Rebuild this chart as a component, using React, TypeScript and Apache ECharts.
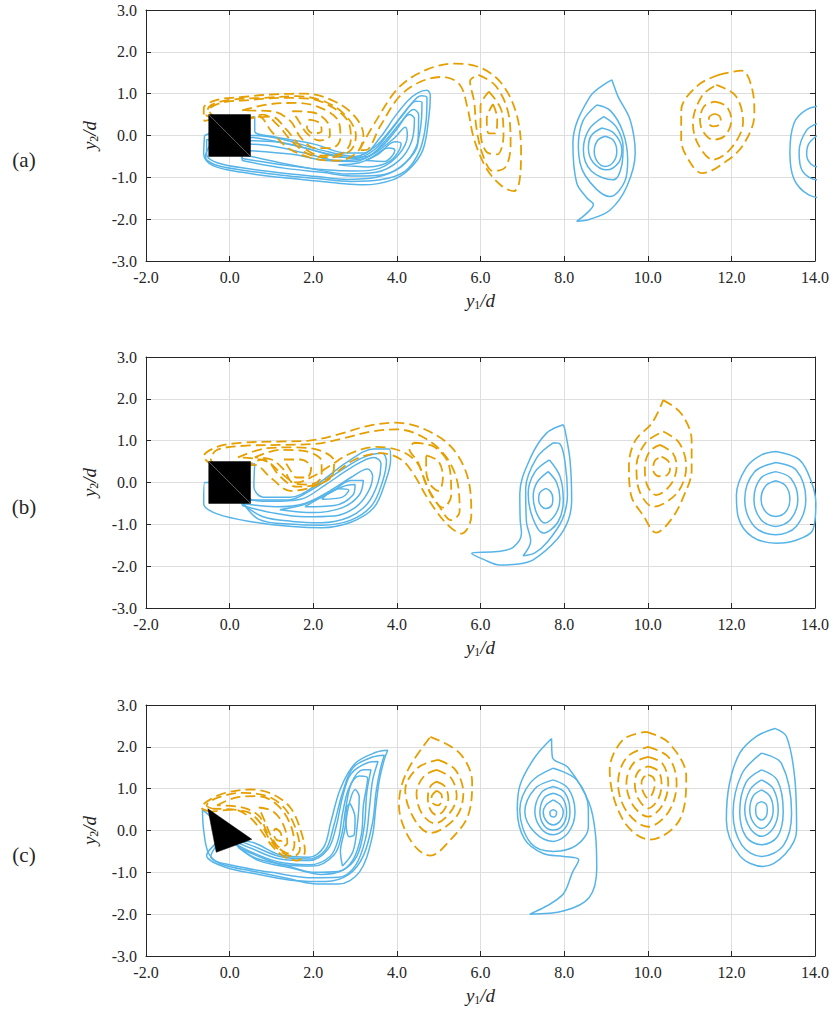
import React, { useEffect, useRef } from "react";
import * as echarts from "echarts";

type P = [number, number];

const X_MIN = -2, X_MAX = 14, X_STEP = 2;
const Y_MIN = -3, Y_MAX = 3, Y_STEP = 1;
const PANEL_LABELS = ["(a)", "(b)", "(c)"];

const BLUE = "#56B4E9";
const ORANGE = "#E69F00";
const INK = "#262626";
const SERIF = "Liberation Serif";

// bodies
const squareBody: P[] = [[-0.5, -0.5], [0.5, -0.5], [0.5, 0.5], [-0.5, 0.5]];
const squareDiag: P[] = [[-0.5, 0.5], [0.5, -0.5]];
const triangleBody: P[] = [[-0.52, 0.52], [-0.32, -0.52], [0.53, -0.21]];

// ---------- panel (a) ----------
const aBlueWake: P[][] = [
  [[-0.6, 0.0], [-0.62, -0.45], [-0.4, -0.72], [0.3, -0.88], [1.2, -1.0], [2.0, -1.08], [2.6, -1.14], [3.2, -1.18], [3.9, -1.06], [4.3, -0.8], [4.62, -0.35], [4.76, 0.4], [4.8, 0.95], [4.72, 1.08], [4.5, 1.02], [4.25, 0.82], [3.95, 0.45], [3.6, -0.05], [3.2, -0.42], [2.8, -0.42], [2.0, -0.2], [1.0, -0.02], [0.6, 0.1], [0.6, 0.45], [0.4, 0.4]],
  [[-0.45, -0.2], [-0.58, -0.5], [-0.35, -0.7], [0.4, -0.84], [1.25, -0.95], [2.1, -1.03], [2.9, -1.1], [3.6, -1.06], [4.2, -0.85], [4.55, -0.35], [4.7, 0.35], [4.72, 0.9], [4.58, 0.95], [4.3, 0.7], [3.9, 0.2], [3.5, -0.25], [3.0, -0.5], [2.2, -0.35], [1.3, -0.1], [0.6, 0.0], [0.3, 0.0]],
  [[-0.3, -0.1], [-0.55, -0.1], [-0.55, -0.45], [-0.3, -0.65], [0.5, -0.8], [1.3, -0.9], [2.1, -0.98], [2.8, -1.05], [3.5, -1.0], [4.1, -0.75], [4.45, -0.3], [4.58, 0.3], [4.6, 0.8], [4.45, 0.82], [4.15, 0.5], [3.8, 0.05], [3.45, -0.35], [3.0, -0.55], [2.4, -0.45], [1.6, -0.25], [0.9, -0.1], [0.55, -0.05], [0.3, -0.1]],
  [[0.3, -0.6], [1.3, -0.78], [2.2, -0.88], [3.0, -0.97], [3.7, -0.93], [4.2, -0.65], [4.5, -0.2], [4.52, 0.5], [4.4, 0.62], [4.08, 0.3], [3.7, -0.15], [3.3, -0.5], [2.7, -0.52], [1.9, -0.32], [1.1, -0.15], [0.3, -0.12]],
  [[0.3, -0.45], [1.2, -0.65], [2.0, -0.8], [2.8, -0.92], [3.5, -0.88], [4.05, -0.6], [4.35, -0.15], [4.42, 0.4], [4.3, 0.5], [4.0, 0.15], [3.65, -0.25], [3.2, -0.55], [2.6, -0.6], [1.8, -0.42], [1.0, -0.25], [0.3, -0.2]],
  [[0.3, -0.55], [1.4, -0.72], [2.3, -0.82], [3.0, -0.85], [3.6, -0.78], [4.05, -0.45], [4.25, 0.0], [4.2, 0.2], [3.95, -0.05], [3.5, -0.4], [3.0, -0.62], [2.3, -0.6], [1.5, -0.45], [0.3, -0.35]],
  [[2.6, -0.7], [3.3, -0.75], [3.85, -0.6], [4.1, -0.2], [3.95, -0.15], [3.55, -0.45], [3.1, -0.65]],
  [[3.25, -0.6], [3.7, -0.62], [3.95, -0.35], [3.8, -0.3], [3.4, -0.52]],
];
const aOrangeNear: P[][] = [
  [[-0.4, 0.4], [-0.6, 0.35], [-0.62, 0.65], [-0.3, 0.85], [0.3, 0.92], [1.0, 0.98], [1.8, 1.0], [2.5, 0.82], [3.0, 0.45], [3.2, 0.0], [3.05, -0.4], [2.6, -0.6], [2.0, -0.55], [1.4, -0.3], [1.0, 0.1], [0.7, 0.45], [0.4, 0.4]],
  [[-0.35, 0.4], [-0.56, 0.5], [-0.45, 0.72], [0.0, 0.85], [0.8, 0.9], [1.6, 0.94], [2.3, 0.8], [2.8, 0.45], [3.02, 0.0], [2.9, -0.35], [2.45, -0.52], [1.9, -0.45], [1.5, -0.15], [1.15, 0.25], [0.8, 0.5], [0.35, 0.4]],
  [[-0.3, 0.4], [-0.5, 0.6], [-0.2, 0.78], [0.5, 0.85], [1.2, 0.9], [1.9, 0.88], [2.5, 0.65], [2.85, 0.3], [2.9, -0.1], [2.7, -0.42], [2.2, -0.48], [1.7, -0.25], [1.35, 0.15], [1.0, 0.45], [0.3, 0.4]],
  [[0.3, 0.6], [0.9, 0.74], [1.6, 0.78], [2.2, 0.65], [2.6, 0.35], [2.65, -0.05], [2.45, -0.3], [2.05, -0.3], [1.7, -0.05], [1.45, 0.35], [1.0, 0.58], [0.3, 0.6]],
  [[1.5, 0.58], [2.0, 0.55], [2.35, 0.3], [2.4, 0.0], [2.15, -0.12], [1.85, 0.05], [1.65, 0.35], [1.5, 0.58]],
  [[1.9, 0.38], [2.15, 0.3], [2.2, 0.1], [2.0, 0.05], [1.85, 0.2], [1.9, 0.38]],
];
const aOrangeHook: P[][] = [
  [[3.1, -0.35], [3.5, 0.35], [4.05, 1.15], [4.7, 1.57], [5.4, 1.72], [6.0, 1.62], [6.5, 1.25], [6.85, 0.55], [6.97, -0.35], [6.93, -1.1], [6.8, -1.33], [6.5, -1.2], [6.15, -0.8], [5.85, -0.1], [5.68, 0.7], [5.5, 1.22], [5.1, 1.4], [4.55, 1.28], [4.05, 0.92], [3.6, 0.22], [3.25, -0.35]],
  [[5.95, 1.45], [6.35, 1.2], [6.65, 0.6], [6.72, -0.2], [6.6, -0.75], [6.3, -0.85], [6.05, -0.45], [5.9, 0.2], [5.85, 0.8], [5.75, 1.3], [5.95, 1.45]],
  [[6.2, 1.05], [6.5, 0.6], [6.55, 0.0], [6.4, -0.45], [6.15, -0.4], [6.0, 0.1], [6.0, 0.7], [6.2, 1.05]],
  [[6.3, 0.75], [6.4, 0.4], [6.35, 0.05], [6.2, 0.05], [6.15, 0.4], [6.3, 0.75]],
];
const aBlueV9: P[][] = [
  [[9.14, 1.33], [8.62, 0.93], [8.21, -0.18], [8.3, -1.13], [8.55, -1.5], [8.7, -1.65], [8.55, -1.85], [8.3, -2.05], [8.62, -2.0], [9.1, -1.78], [9.5, -1.22], [9.7, -0.42], [9.58, 0.37], [9.29, 0.93], [9.17, 1.25], [9.14, 1.33]],
  [[8.78, 0.73], [8.45, 0.35], [8.34, -0.26], [8.5, -0.95], [9.1, -1.46], [9.45, -1.1], [9.52, -0.58], [9.4, 0.1], [9.1, 0.6], [8.78, 0.73]],
  [[8.95, 0.45], [8.6, 0.15], [8.46, -0.34], [8.65, -0.85], [9.17, -1.06], [9.38, -0.7], [9.41, -0.26], [9.25, 0.2], [8.95, 0.45]],
  [[8.9, 0.18], [8.65, 0.0], [8.58, -0.3], [8.7, -0.65], [9.02, -0.82], [9.3, -0.65], [9.38, -0.34], [9.2, 0.05], [8.9, 0.18]],
  [[8.98, -0.02], [8.8, -0.12], [8.72, -0.38], [8.8, -0.63], [8.98, -0.74], [9.18, -0.63], [9.26, -0.38], [9.18, -0.12], [8.98, -0.02]],
];
const aOrangeV11: P[][] = [
  [[11.7, 1.45], [12.25, 1.55], [12.5, 1.1], [12.55, 0.5], [12.3, -0.2], [11.9, -0.6], [11.3, -0.9], [11.05, -0.7], [10.8, -0.1], [10.8, 0.6], [11.2, 1.2], [11.7, 1.45]],
  [[11.64, 1.21], [12.1, 0.95], [12.28, 0.33], [12.0, -0.3], [11.56, -0.58], [11.2, -0.2], [11.08, 0.3], [11.3, 0.95], [11.64, 1.21]],
  [[11.6, 0.81], [11.88, 0.7], [12.0, 0.37], [11.85, 0.0], [11.56, -0.1], [11.32, 0.1], [11.25, 0.37], [11.35, 0.7], [11.6, 0.81]],
  [[11.6, 0.52], [11.72, 0.46], [11.75, 0.34], [11.68, 0.24], [11.56, 0.22], [11.46, 0.3], [11.47, 0.44], [11.6, 0.52]],
];
const aBlueV14: P[][] = [
  [[14.2, 0.72], [13.8, 0.62], [13.5, 0.3], [13.4, -0.4], [13.5, -1.05], [13.85, -1.42], [14.3, -1.5], [14.8, -1.2], [14.9, -0.4], [14.7, 0.4], [14.2, 0.72]],
  [[14.1, 0.3], [13.8, 0.13], [13.62, -0.4], [13.7, -0.85], [14.05, -1.06], [14.5, -0.9], [14.6, -0.4], [14.45, 0.1], [14.1, 0.3]],
  [[14.05, 0.0], [13.85, -0.2], [13.8, -0.45], [13.9, -0.68], [14.1, -0.75], [14.35, -0.55], [14.35, -0.2], [14.05, 0.0]],
];

// ---------- panel (b) ----------
const bBlueWake: P[][] = [
  [[-0.3, 0.0], [-0.6, 0.0], [-0.62, -0.5], [-0.3, -0.75], [0.6, -0.95], [1.5, -1.05], [2.2, -1.08], [2.9, -0.95], [3.45, -0.6], [3.72, 0.0], [3.85, 0.55], [3.82, 0.8], [3.45, 0.8], [2.8, 0.48], [2.15, 0.0], [1.45, -0.35], [0.8, -0.35], [0.58, -0.1], [0.6, 0.45], [0.4, 0.4]],
  [[0.3, -0.45], [0.7, -0.88], [1.5, -1.0], [2.2, -1.02], [2.9, -0.9], [3.4, -0.55], [3.65, 0.0], [3.75, 0.5], [3.65, 0.7], [3.2, 0.6], [2.6, 0.25], [2.0, -0.15], [1.4, -0.42], [0.6, -0.42], [0.3, -0.3]],
  [[0.3, -0.5], [0.8, -0.82], [1.5, -0.93], [2.2, -0.96], [2.85, -0.83], [3.3, -0.5], [3.55, 0.0], [3.62, 0.45], [3.45, 0.6], [2.9, 0.35], [2.3, -0.05], [1.7, -0.4], [1.0, -0.45], [0.3, -0.4]],
  [[0.3, -0.55], [1.0, -0.72], [1.8, -0.82], [2.5, -0.8], [3.0, -0.6], [3.3, -0.25], [3.42, 0.15], [3.3, 0.32], [2.9, 0.12], [2.4, -0.2], [1.8, -0.5], [1.1, -0.58], [0.3, -0.5]],
  [[1.2, -0.65], [2.0, -0.72], [2.7, -0.6], [3.1, -0.3], [3.2, 0.05], [2.9, 0.05], [2.4, -0.25], [1.8, -0.52], [1.2, -0.65]],
  [[1.8, -0.58], [2.5, -0.55], [2.95, -0.3], [3.0, -0.05], [2.7, -0.1], [2.2, -0.35], [1.8, -0.58]],
  [[2.2, -0.4], [2.7, -0.35], [2.85, -0.18], [2.6, -0.15], [2.2, -0.4]],
];
const bOrangeBand: P[][] = [
  [[-0.4, 0.4], [-0.62, 0.62], [-0.3, 0.85], [0.3, 0.95], [1.2, 0.98], [1.9, 1.0], [2.6, 1.15], [3.3, 1.35], [3.95, 1.43], [4.6, 1.3], [5.3, 0.85], [5.7, 0.1], [5.78, -0.8], [5.55, -1.22], [5.2, -1.0], [4.75, -0.4], [4.4, 0.2], [4.1, 0.55], [3.6, 0.7], [3.0, 0.55], [2.5, 0.2], [2.0, -0.1], [1.45, -0.2], [1.0, 0.1], [0.6, 0.42], [0.4, 0.4]],
  [[-0.3, 0.4], [-0.45, 0.55], [-0.3, 0.78], [0.4, 0.88], [1.3, 0.9], [2.0, 0.92], [2.7, 1.05], [3.4, 1.22], [4.0, 1.27], [4.6, 1.1], [5.15, 0.65], [5.45, 0.0], [5.5, -0.7], [5.3, -0.9], [5.0, -0.55], [4.7, -0.05], [4.5, 0.45], [4.1, 0.75], [3.5, 0.85], [2.9, 0.7], [2.4, 0.4], [2.0, 0.15], [1.6, 0.0], [1.2, 0.25], [0.8, 0.55], [0.3, 0.4]],
  [[0.2, 0.6], [0.9, 0.82], [1.6, 0.84], [2.2, 0.75], [2.5, 0.5], [2.45, 0.15], [2.1, -0.05], [1.6, -0.1], [1.2, 0.15], [0.9, 0.5], [0.2, 0.6]],
  [[0.6, 0.6], [1.2, 0.78], [1.8, 0.75], [2.2, 0.5], [2.2, 0.15], [1.9, -0.05], [1.5, 0.0], [1.3, 0.3], [1.0, 0.55], [0.6, 0.6]],
  [[1.3, 0.55], [1.7, 0.55], [1.95, 0.35], [1.85, 0.12], [1.6, 0.12], [1.45, 0.3], [1.3, 0.55]],
  [[4.4, 0.95], [4.9, 0.85], [5.25, 0.4], [5.3, -0.3], [5.1, -0.6], [4.85, -0.35], [4.65, 0.1], [4.5, 0.5], [4.3, 0.8], [4.4, 0.95]],
  [[4.7, 0.65], [5.0, 0.5], [5.1, 0.1], [5.0, -0.2], [4.8, -0.05], [4.7, 0.3], [4.7, 0.65]],
];
const bBlueV8: P[][] = [
  [[7.98, 1.38], [7.58, 1.18], [7.2, 0.6], [6.94, -0.26], [6.95, -0.9], [6.98, -1.21], [6.78, -1.55], [6.4, -1.65], [5.79, -1.69], [6.1, -1.85], [6.46, -1.97], [6.9, -1.95], [7.26, -1.85], [7.82, -1.37], [8.1, -0.9], [8.18, -0.42], [8.14, 0.54], [8.02, 1.26], [7.98, 1.38]],
  [[7.74, 0.95], [7.35, 0.6], [7.08, -0.15], [7.1, -0.95], [7.2, -1.4], [7.02, -1.75], [7.3, -1.68], [7.6, -1.42], [7.95, -0.9], [8.08, -0.3], [8.02, 0.5], [7.9, 0.92], [7.74, 0.95]],
  [[7.65, 0.54], [7.3, 0.25], [7.14, -0.26], [7.25, -0.85], [7.5, -1.21], [7.85, -0.95], [7.98, -0.42], [7.9, 0.15], [7.65, 0.54]],
  [[7.62, 0.26], [7.35, 0.0], [7.26, -0.34], [7.35, -0.75], [7.54, -0.97], [7.8, -0.75], [7.9, -0.38], [7.82, 0.0], [7.62, 0.26]],
  [[7.56, -0.14], [7.42, -0.24], [7.39, -0.42], [7.45, -0.56], [7.56, -0.62], [7.7, -0.55], [7.73, -0.38], [7.68, -0.22], [7.56, -0.14]],
];
const bOrangeV10: P[][] = [
  [[10.37, 1.97], [10.8, 1.65], [11.05, 1.0], [11.05, 0.3], [10.85, -0.35], [10.55, -0.9], [10.2, -1.2], [9.9, -0.8], [9.6, -0.3], [9.55, 0.4], [9.7, 1.0], [10.1, 1.42], [10.37, 1.97]],
  [[10.37, 1.22], [10.75, 0.95], [10.92, 0.38], [10.7, -0.25], [10.13, -0.58], [9.8, -0.2], [9.73, 0.38], [9.95, 0.95], [10.37, 1.22]],
  [[10.29, 0.9], [10.6, 0.7], [10.69, 0.38], [10.55, -0.05], [10.2, -0.3], [9.98, -0.05], [9.93, 0.38], [10.05, 0.75], [10.29, 0.9]],
  [[10.33, 0.62], [10.5, 0.5], [10.53, 0.3], [10.4, 0.15], [10.25, 0.15], [10.13, 0.3], [10.17, 0.52], [10.33, 0.62]],
];
const bBlueV13: P[][] = [
  [[13.07, 0.74], [13.63, 0.54], [13.92, 0.0], [14.02, -0.5], [13.95, -1.13], [13.55, -1.38], [13.07, -1.45], [12.5, -1.3], [12.17, -0.85], [12.12, -0.3], [12.35, 0.35], [12.7, 0.65], [13.07, 0.74]],
  [[13.06, 0.48], [13.55, 0.3], [13.78, -0.4], [13.55, -1.05], [13.06, -1.25], [12.55, -1.05], [12.32, -0.4], [12.55, 0.25], [13.06, 0.48]],
  [[13.06, 0.26], [13.42, 0.1], [13.59, -0.4], [13.42, -0.88], [13.06, -1.05], [12.7, -0.88], [12.54, -0.4], [12.7, 0.1], [13.06, 0.26]],
  [[13.06, 0.04], [13.3, -0.08], [13.4, -0.4], [13.3, -0.7], [13.06, -0.81], [12.82, -0.7], [12.71, -0.4], [12.82, -0.08], [13.06, 0.04]],
];

// ---------- panel (c) ----------
const cBlueArm: P[][] = [
  [[-0.3, 0.2], [-0.65, 0.5], [-0.62, 0.0], [-0.5, -0.55], [-0.2, -0.8], [0.6, -0.98], [1.4, -1.15], [2.0, -1.27], [2.6, -1.28], [3.1, -1.0], [3.4, -0.2], [3.5, 0.6], [3.58, 1.2], [3.7, 1.7], [3.78, 1.92], [3.5, 1.87], [3.0, 1.6], [2.65, 1.0], [2.42, 0.2], [2.25, -0.4], [1.9, -0.64], [1.2, -0.58], [0.6, -0.3], [0.2, -0.2]],
  [[-0.2, -0.2], [-0.55, -0.6], [-0.1, -0.88], [0.7, -1.05], [1.6, -1.2], [2.3, -1.22], [2.85, -1.05], [3.2, -0.6], [3.42, 0.2], [3.5, 0.9], [3.6, 1.45], [3.7, 1.8], [3.4, 1.75], [2.95, 1.5], [2.7, 0.9], [2.5, 0.15], [2.3, -0.45], [1.9, -0.68], [1.2, -0.62], [0.5, -0.35], [0.0, -0.2]],
  [[-0.1, -0.1], [-0.45, -0.62], [0.3, -0.88], [1.0, -1.0], [2.0, -1.13], [2.6, -1.12], [3.0, -0.85], [3.25, -0.2], [3.35, 0.6], [3.42, 1.2], [3.55, 1.65], [3.3, 1.62], [2.9, 1.35], [2.7, 0.8], [2.55, 0.1], [2.35, -0.45], [1.9, -0.72], [1.2, -0.68], [0.5, -0.42], [0.0, -0.2]],
  [[0.2, -0.4], [0.7, -0.72], [1.5, -0.9], [2.2, -1.05], [2.7, -0.95], [3.05, -0.6], [3.22, 0.1], [3.28, 0.9], [3.38, 1.45], [3.2, 1.45], [2.92, 1.15], [2.78, 0.55], [2.68, -0.1], [2.5, -0.58], [2.0, -0.85], [1.3, -0.82], [0.7, -0.62], [0.2, -0.4]],
  [[0.1, -0.3], [0.6, -0.65], [1.3, -0.82], [2.0, -1.0], [2.6, -0.98], [2.95, -0.7], [3.15, -0.1], [3.2, 0.6], [3.3, 1.25], [3.1, 1.3], [2.85, 1.0], [2.7, 0.4], [2.6, -0.2], [2.4, -0.62], [1.9, -0.82], [1.2, -0.76], [0.6, -0.55], [0.1, -0.3]],
  [[2.7, -0.85], [2.95, -0.5], [3.05, 0.1], [3.1, 0.8], [3.0, 0.98], [2.85, 0.6], [2.75, 0.0], [2.65, -0.5], [2.7, -0.85]],
  [[2.88, 0.65], [3.0, 0.3], [2.98, -0.1], [2.86, -0.15], [2.78, 0.25], [2.8, 0.55], [2.88, 0.65]],
];
const cOrangeNear: P[][] = [
  [[-0.45, 0.45], [-0.68, 0.55], [-0.45, 0.75], [-0.1, 0.9], [0.5, 0.98], [1.0, 0.88], [1.45, 0.55], [1.7, 0.0], [1.8, -0.5], [1.62, -0.72], [1.3, -0.62], [1.0, -0.35], [0.75, 0.0], [0.5, 0.3], [0.1, 0.5], [-0.45, 0.45]],
  [[-0.4, 0.52], [-0.55, 0.6], [-0.3, 0.78], [0.3, 0.9], [0.9, 0.82], [1.3, 0.55], [1.58, 0.05], [1.68, -0.45], [1.52, -0.62], [1.22, -0.5], [0.95, -0.2], [0.72, 0.2], [0.4, 0.45], [-0.4, 0.52]],
  [[-0.3, 0.6], [0.2, 0.8], [0.7, 0.82], [1.15, 0.6], [1.45, 0.15], [1.55, -0.35], [1.42, -0.55], [1.15, -0.4], [0.9, -0.05], [0.7, 0.35], [0.3, 0.55], [-0.3, 0.6]],
  [[0.7, 0.55], [1.05, 0.45], [1.3, 0.1], [1.38, -0.3], [1.2, -0.4], [1.0, -0.15], [0.85, 0.2], [0.7, 0.55]],
  [[1.1, 0.05], [1.22, -0.05], [1.25, -0.25], [1.12, -0.22], [1.05, -0.05], [1.1, 0.05]],
];
const cOrangeV5: P[][] = [
  [[4.8, 2.24], [5.5, 1.85], [5.8, 1.15], [5.7, 0.35], [5.3, -0.2], [4.8, -0.6], [4.5, -0.45], [4.2, 0.0], [4.05, 0.6], [4.12, 1.1], [4.35, 1.6], [4.8, 2.24]],
  [[4.99, 1.69], [5.4, 1.45], [5.59, 0.89], [5.4, 0.3], [4.79, -0.06], [4.4, 0.3], [4.2, 0.97], [4.5, 1.5], [4.99, 1.69]],
  [[4.95, 1.45], [5.3, 1.25], [5.43, 0.81], [5.25, 0.4], [4.91, 0.17], [4.6, 0.4], [4.47, 0.89], [4.65, 1.3], [4.95, 1.45]],
  [[4.95, 1.17], [5.15, 1.05], [5.23, 0.77], [5.12, 0.48], [4.95, 0.37], [4.8, 0.5], [4.74, 0.77], [4.8, 1.05], [4.95, 1.17]],
  [[4.95, 0.95], [5.07, 0.85], [5.08, 0.72], [4.98, 0.6], [4.86, 0.65], [4.83, 0.8], [4.95, 0.95]],
];
const cBlueV8: P[][] = [
  [[7.7, 2.2], [7.3, 1.75], [6.95, 1.1], [6.88, 0.5], [7.05, -0.2], [7.5, -0.55], [8.0, -0.62], [8.35, -0.7], [8.2, -1.0], [7.95, -1.55], [7.18, -2.0], [8.0, -1.92], [8.6, -1.6], [8.78, -0.9], [8.75, -0.1], [8.6, 0.65], [8.1, 1.5], [7.72, 1.75], [7.7, 2.2]],
  [[7.74, 1.49], [8.3, 1.21], [8.58, 0.5], [8.58, 0.09], [8.3, -0.35], [7.74, -0.5], [7.2, -0.3], [6.94, 0.49], [7.2, 1.15], [7.74, 1.49]],
  [[7.74, 1.21], [8.1, 1.0], [8.26, 0.45], [8.1, -0.05], [7.74, -0.26], [7.3, -0.05], [7.06, 0.45], [7.3, 1.0], [7.74, 1.21]],
  [[7.74, 1.05], [8.02, 0.9], [8.14, 0.45], [8.02, 0.05], [7.74, -0.1], [7.45, 0.05], [7.3, 0.45], [7.45, 0.9], [7.74, 1.05]],
  [[7.74, 0.89], [7.96, 0.78], [8.06, 0.43], [7.96, 0.12], [7.74, 0.01], [7.52, 0.12], [7.42, 0.43], [7.52, 0.78], [7.74, 0.89]],
  [[7.74, 0.73], [7.92, 0.6], [7.98, 0.43], [7.9, 0.22], [7.74, 0.13], [7.58, 0.22], [7.5, 0.43], [7.56, 0.6], [7.74, 0.73]],
  [[7.74, 0.5], [7.82, 0.44], [7.8, 0.35], [7.74, 0.32], [7.67, 0.36], [7.66, 0.44], [7.74, 0.5]],
];
const cOrangeV10: P[][] = [
  [[9.97, 2.36], [10.5, 2.1], [10.92, 1.29], [10.76, 0.25], [10.05, -0.22], [9.41, 0.25], [9.09, 1.45], [9.41, 2.17], [9.97, 2.36]],
  [[10.01, 2.0], [10.5, 1.75], [10.69, 1.13], [10.5, 0.45], [10.01, 0.09], [9.5, 0.45], [9.29, 1.13], [9.5, 1.75], [10.01, 2.0]],
  [[10.01, 1.76], [10.35, 1.6], [10.49, 1.13], [10.35, 0.6], [10.01, 0.33], [9.65, 0.6], [9.49, 1.13], [9.65, 1.6], [10.01, 1.76]],
  [[10.01, 1.53], [10.25, 1.42], [10.33, 1.13], [10.25, 0.75], [10.01, 0.53], [9.78, 0.75], [9.69, 1.13], [9.78, 1.42], [10.01, 1.53]],
  [[10.01, 1.33], [10.13, 1.27], [10.17, 1.13], [10.12, 0.9], [10.01, 0.77], [9.9, 0.9], [9.85, 1.13], [9.9, 1.27], [10.01, 1.33]],
];
const cBlueV13: P[][] = [
  [[13.04, 2.44], [13.32, 2.24], [13.52, 1.21], [13.56, 0.01], [13.3, -0.55], [12.76, -0.86], [12.2, -0.6], [11.88, 0.25], [11.95, 1.1], [12.2, 1.85], [12.6, 2.25], [13.04, 2.44]],
  [[12.72, 1.85], [13.2, 1.6], [13.44, 0.41], [13.25, -0.35], [12.72, -0.62], [12.25, -0.35], [12.04, 0.41], [12.25, 1.35], [12.72, 1.85]],
  [[12.72, 1.45], [13.1, 1.2], [13.24, 0.45], [13.1, -0.15], [12.72, -0.34], [12.35, -0.15], [12.2, 0.45], [12.35, 1.15], [12.72, 1.45]],
  [[12.72, 1.21], [13.0, 1.0], [13.12, 0.49], [13.0, 0.05], [12.72, -0.14], [12.45, 0.05], [12.32, 0.49], [12.45, 0.98], [12.72, 1.21]],
  [[12.72, 0.97], [12.92, 0.82], [13.0, 0.49], [12.92, 0.2], [12.72, 0.05], [12.52, 0.2], [12.44, 0.49], [12.52, 0.82], [12.72, 0.97]],
  [[12.72, 0.69], [12.83, 0.63], [12.86, 0.49], [12.83, 0.33], [12.72, 0.25], [12.61, 0.33], [12.58, 0.49], [12.61, 0.63], [12.72, 0.69]],
];

const PANELS = [
  { blue: [...aBlueWake, ...aBlueV9, ...aBlueV14], orange: [...aOrangeNear, ...aOrangeHook, ...aOrangeV11], body: squareBody, diag: squareDiag },
  { blue: [...bBlueWake, ...bBlueV8, ...bBlueV13], orange: [...bOrangeBand, ...bOrangeV10], body: squareBody, diag: squareDiag },
  { blue: [...cBlueArm, ...cBlueV8, ...cBlueV13], orange: [...cOrangeNear, ...cOrangeV5, ...cOrangeV10], body: triangleBody, diag: null as P[] | null },
];

const GRID_TOPS = [10, 357, 705];
const GRID_LEFT = 146;
const GRID_W = 669;
const GRID_H = 251;

function closeLoop(l: P[]): P[] {
  const a = l[0], b = l[l.length - 1];
  return a[0] === b[0] && a[1] === b[1] ? l : [...l, a];
}

function buildOption() {
  const grid: any[] = [];
  const xAxis: any[] = [];
  const yAxis: any[] = [];
  const series: any[] = [];
  const graphic: any[] = [];
  const axisLineStyle = { color: INK, width: 1 };
  const nameRich = {
    i: { fontFamily: SERIF, fontStyle: "italic", fontSize: 19, color: INK },
    s: { fontFamily: SERIF, fontSize: 12, color: INK, padding: [10, 0, 0, 0] },
  };

  GRID_TOPS.forEach((top, g) => {
    grid.push({ left: GRID_LEFT, top, width: GRID_W, height: GRID_H, containLabel: false });
    const common = { gridIndex: g, type: "value", min: X_MIN, max: X_MAX, interval: X_STEP };
    xAxis.push({
      ...common,
      position: "bottom",
      axisLine: { show: true, onZero: false, lineStyle: axisLineStyle },
      axisTick: { show: true, inside: true, length: 5, lineStyle: axisLineStyle },
      axisLabel: { formatter: (v: number) => v.toFixed(1), margin: 8, fontFamily: SERIF, fontSize: 16, color: INK, showMinLabel: true, showMaxLabel: true },
      splitLine: { show: true, lineStyle: { color: "#dedede", width: 1 } },
      name: "{i|y}{s|1}{i|/d}",
      nameLocation: "middle",
      nameGap: 28,
      nameTextStyle: { fontFamily: SERIF, rich: nameRich },
    });
    xAxis.push({
      ...common,
      position: "top",
      axisLine: { show: true, onZero: false, lineStyle: axisLineStyle },
      axisTick: { show: true, inside: true, length: 5, lineStyle: axisLineStyle },
      axisLabel: { show: false },
      splitLine: { show: false },
    });
    const ycommon = { gridIndex: g, type: "value", min: Y_MIN, max: Y_MAX, interval: Y_STEP };
    yAxis.push({
      ...ycommon,
      position: "left",
      axisLine: { show: true, onZero: false, lineStyle: axisLineStyle },
      axisTick: { show: true, inside: true, length: 5, lineStyle: axisLineStyle },
      axisLabel: { formatter: (v: number) => v.toFixed(1), margin: 9, fontFamily: SERIF, fontSize: 16, color: INK, showMinLabel: true, showMaxLabel: true },
      splitLine: { show: true, lineStyle: { color: "#dedede", width: 1 } },
      name: "{i|y}{s|2}{i|/d}",
      nameLocation: "middle",
      nameGap: 46,
      nameRotate: 90,
      nameTextStyle: { fontFamily: SERIF, rich: nameRich },
    });
    yAxis.push({
      ...ycommon,
      position: "right",
      axisLine: { show: true, onZero: false, lineStyle: axisLineStyle },
      axisTick: { show: true, inside: true, length: 5, lineStyle: axisLineStyle },
      axisLabel: { show: false },
      splitLine: { show: false },
    });

    const panel = PANELS[g];
    panel.blue.forEach((loop) => {
      series.push({
        type: "line", xAxisIndex: 2 * g, yAxisIndex: 2 * g, data: closeLoop(loop),
        smooth: 0.35, showSymbol: false, symbol: "none", silent: true, clip: true, z: 3,
        lineStyle: { color: BLUE, width: 1.5 },
      });
    });
    panel.orange.forEach((loop) => {
      series.push({
        type: "line", xAxisIndex: 2 * g, yAxisIndex: 2 * g, data: closeLoop(loop),
        smooth: 0.35, showSymbol: false, symbol: "none", silent: true, clip: true, z: 4,
        lineStyle: { color: ORANGE, width: 1.8, type: [10, 5] },
      });
    });
    const body = panel.body;
    const diag = panel.diag;
    series.push({
      type: "custom", xAxisIndex: 2 * g, yAxisIndex: 2 * g, data: [[0, 0]], z: 20, silent: true,
      renderItem: (_p: any, api: any) => {
        const pts = body.map((p) => api.coord(p));
        const children: any[] = [
          { type: "polygon", shape: { points: pts }, style: { fill: "#000", stroke: "#000", lineWidth: 0.5 } },
        ];
        if (diag) {
          const a = api.coord(diag[0]);
          const b = api.coord(diag[1]);
          children.push({ type: "line", shape: { x1: a[0], y1: a[1], x2: b[0], y2: b[1] }, style: { stroke: "#7a7a7a", lineWidth: 0.8 } });
        }
        return { type: "group", children };
      },
    });

    graphic.push({
      type: "text", x: 24, y: top + GRID_H / 2 + 24,
      style: { text: PANEL_LABELS[g], fontFamily: SERIF, fontSize: 21, fill: INK, align: "center", verticalAlign: "middle" },
    });
  });

  return {
    animation: false,
    backgroundColor: "#ffffff",
    textStyle: { fontFamily: SERIF, color: INK },
    grid, xAxis, yAxis, series, graphic,
  };
}

export default function App() {
  const ref = useRef<HTMLDivElement>(null);
  useEffect(() => {
    if (!ref.current) return;
    const chart = echarts.init(ref.current, undefined, { renderer: "svg" });
    chart.setOption(buildOption() as any);
    return () => chart.dispose();
  }, []);
  return (
    <div
      ref={ref}
      style={{ position: "absolute", left: 0, top: 0, width: 834, height: 1016, background: "#fff" }}
    />
  );
}
